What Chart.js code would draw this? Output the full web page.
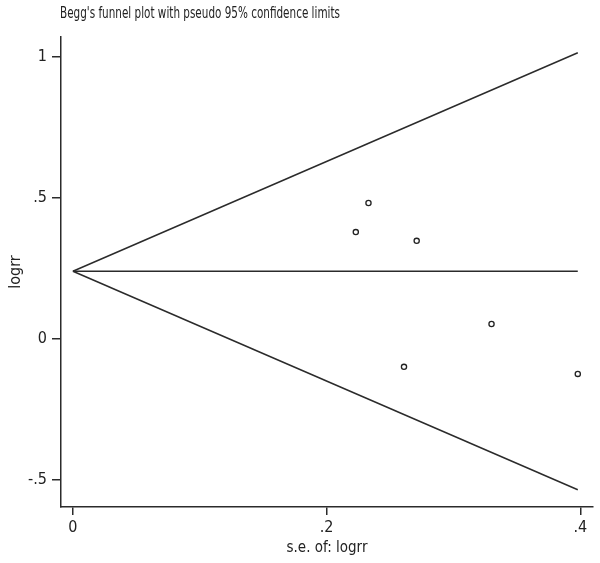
<!DOCTYPE html>
<html>
<head>
<meta charset="utf-8">
<script src="https://cdn.jsdelivr.net/npm/chart.js@4.4.1/dist/chart.umd.min.js"></script>
<style>
  html, body { margin: 0; padding: 0; background: #fff; }
  #wrap { width: 600px; height: 563px; position: relative; }
</style>
</head>
<body>
<div id="wrap"><canvas id="funnel"></canvas></div>
<script>
// study points (s.e. of logrr, logrr)
const seVals = [0.233, 0.223, 0.271, 0.330, 0.261, 0.398];
const logrrVals = [0.482, 0.379, 0.348, 0.053, -0.099, -0.124];

// pseudo 95% limits and pooled estimate
const funnelSe = [0, 0.398];
const upperLimit = [0.24, 1.015];
const lowerLimit = [0.24, -0.535];
const pooledLine = [0.24, 0.24];

const xTicks = [0, 0.2, 0.4];
const xTickLabels = ["0", ".2", ".4"];
const yTicks = [-0.5, 0, 0.5, 1];
const yTickLabels = ["-.5", "0", ".5", "1"];

const titleText = "Begg's funnel plot with pseudo 95% confidence limits";
const fontFam = "'Liberation Sans Narrow', 'DejaVu Sans Condensed', 'Liberation Sans', sans-serif";
const ink = "#2b2b2b";

const toPts = (xs, ys) => xs.map((x, i) => ({ x: x, y: ys[i] }));

function lineSet(ys) {
  return {
    type: "line",
    data: toPts(funnelSe, ys),
    borderColor: ink,
    borderWidth: 1.5,
    pointRadius: 0,
    fill: false,
    tension: 0
  };
}

// title drawn at the left edge of the plot area, squeezed like the Stata export
const topTitle = {
  id: "topTitle",
  afterDraw(chart) {
    const ctx = chart.ctx;
    ctx.save();
    ctx.font = "15px " + fontFam;
    ctx.fillStyle = "#222";
    ctx.textBaseline = "middle";
    ctx.textAlign = "left";
    const w = ctx.measureText(titleText).width;
    const sx = Math.min(1, 280 / w);
    ctx.translate(chart.chartArea.left - 1, 14);
    ctx.scale(sx, 1);
    ctx.fillText(titleText, 0, 0);
    ctx.restore();
  }
};

new Chart(document.getElementById("funnel"), {
  type: "scatter",
  data: {
    datasets: [
      lineSet(upperLimit),
      lineSet(lowerLimit),
      lineSet(pooledLine),
      {
        type: "scatter",
        data: toPts(seVals, logrrVals),
        pointStyle: "circle",
        pointRadius: 2.6,
        borderWidth: 1.3,
        borderColor: "#222",
        backgroundColor: "#fff"
      }
    ]
  },
  options: {
    responsive: true,
    maintainAspectRatio: false,
    animation: false,
    layout: { padding: { top: 37, right: 7, left: 0, bottom: 0 } },
    plugins: {
      legend: { display: false },
      tooltip: { enabled: false },
      title: { display: false }
    },
    scales: {
      x: {
        type: "linear",
        min: -0.0094,
        max: 0.41,
        afterFit: s => { s.height = 56; },
        afterBuildTicks: s => { s.ticks = xTicks.map(v => ({ value: v })); },
        ticks: {
          color: "#222",
          padding: 3,
          maxRotation: 0,
          font: { family: fontFam, size: 16 },
          callback: v => xTickLabels[xTicks.indexOf(v)]
        },
        grid: { drawOnChartArea: false, drawTicks: true, tickLength: 8, color: ink, lineWidth: 1.5 },
        border: { display: true, color: ink, width: 1.5 },
        title: {
          display: true,
          text: "s.e. of: logrr",
          color: "#222",
          font: { family: fontFam, size: 15 },
          padding: { top: 0, bottom: 6 }
        }
      },
      y: {
        type: "linear",
        min: -0.596,
        max: 1.071,
        afterFit: s => { s.width = 61; },
        afterBuildTicks: s => { s.ticks = yTicks.map(v => ({ value: v })); },
        ticks: {
          color: "#222",
          padding: 5,
          font: { family: fontFam, size: 16 },
          callback: v => yTickLabels[yTicks.indexOf(v)]
        },
        grid: { drawOnChartArea: false, drawTicks: true, tickLength: 9, color: ink, lineWidth: 1.5 },
        border: { display: true, color: ink, width: 1.5 },
        title: {
          display: true,
          text: "logrr",
          color: "#222",
          font: { family: fontFam, size: 16 },
          padding: { top: 6, bottom: 0 }
        }
      }
    }
  },
  plugins: [topTitle]
});
</script>
</body>
</html>
